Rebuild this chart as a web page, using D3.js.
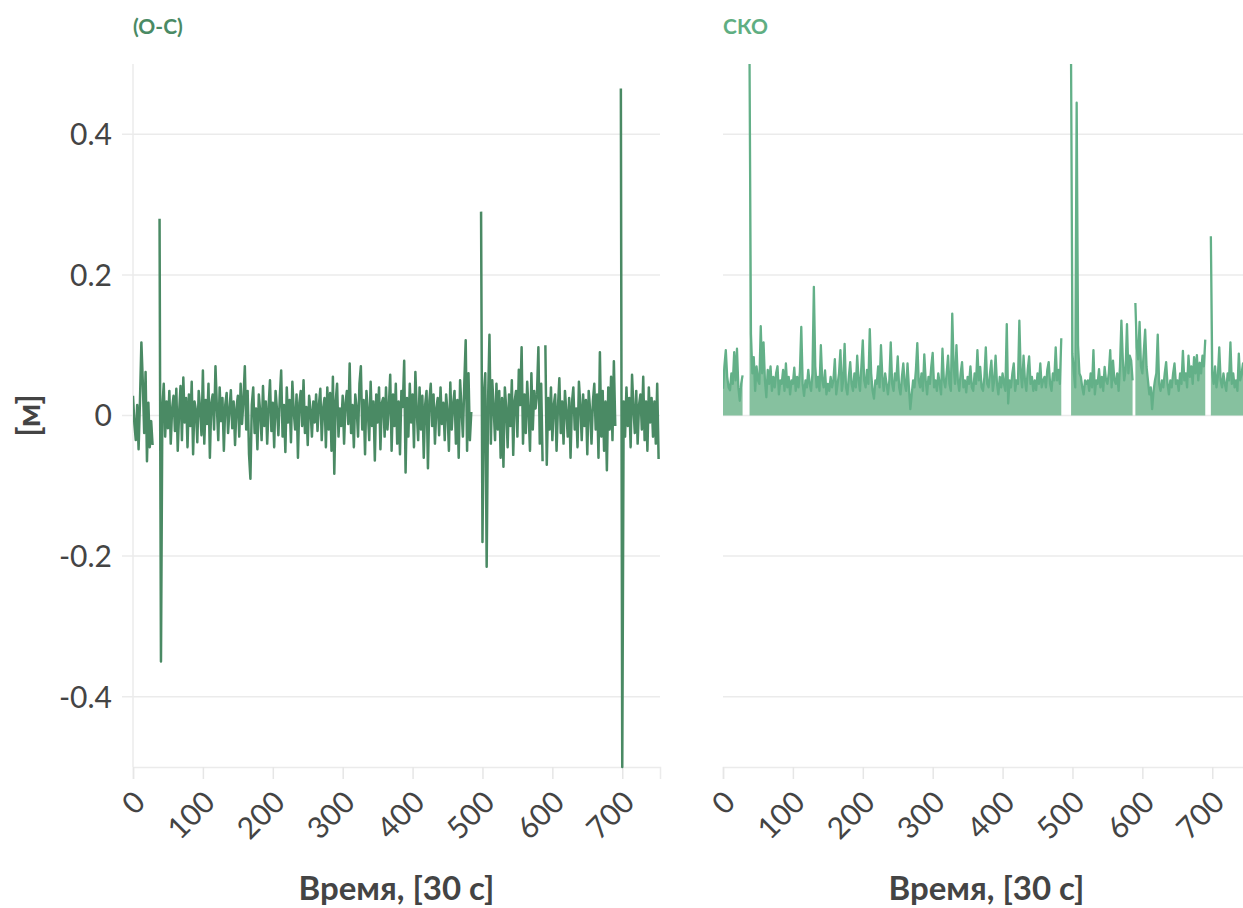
<!DOCTYPE html>
<html>
<head>
<meta charset="utf-8">
<script src="https://cdn.jsdelivr.net/npm/d3@7"></script>
<style>
html,body{margin:0;padding:0;background:#fff;overflow:hidden;}
svg{display:block;font-family:Lato,"Open Sans",sans-serif;}
</style>
</head>
<body>
<svg id="chart" width="1243" height="908"></svg>
<script>
// ---- data (time step 2 x 30 s, null = missing) ----
const timeStep = 2;
const omc = [
0.028,-0.012,-0.035,0.015,-0.048,0.022,0.104,0.048,-0.025,0.062,
-0.065,0.018,-0.045,-0.008,-0.042,null,null,null,null,0.28,
-0.35,0.012,0.045,-0.03,0.02,-0.018,0.035,-0.04,0.01,0.028,
-0.022,0.038,-0.05,0.005,0.042,-0.035,0.054,-0.01,0.025,-0.045,
0.03,-0.015,0.048,-0.055,0.02,0.008,-0.038,0.035,0.01,-0.028,
0.064,-0.04,0.022,-0.012,0.045,-0.06,0.018,0.03,-0.02,0.07,
0.012,-0.035,0.04,-0.008,0.025,-0.05,0.015,0.032,-0.025,0.008,
0.036,-0.018,0.02,-0.042,0.01,0.028,-0.03,0.045,-0.012,0.022,
0.07,-0.02,0.035,-0.055,-0.09,0.015,0.04,-0.025,0.01,-0.048,
0.03,0.005,-0.035,0.042,-0.015,0.02,-0.04,0.012,0.05,-0.022,
0.018,-0.045,0.035,0.008,-0.028,0.025,0.064,-0.03,0.015,-0.052,
0.04,-0.01,0.022,-0.038,0.048,0.005,-0.02,0.03,-0.06,0.018,
0.035,-0.015,0.05,-0.025,0.012,-0.042,0.028,0.008,-0.03,0.02,
-0.01,0.03,-0.022,0.015,0.038,-0.035,0.01,0.025,-0.045,0.04,
-0.02,0.032,-0.05,0.055,-0.083,0.02,0.045,-0.03,0.01,-0.015,
0.028,-0.04,0.018,0.035,-0.012,0.074,-0.025,0.015,-0.045,0.03,
0.01,-0.03,0.045,0.07,-0.02,0.022,-0.055,0.035,0.005,-0.035,
0.048,-0.015,0.02,-0.064,0.03,-0.01,0.04,-0.048,0.018,0.025,
-0.03,0.04,-0.02,0.012,0.058,-0.05,0.03,-0.015,0.045,-0.04,
0.02,-0.055,0.035,0.012,0.078,-0.081,0.025,-0.03,0.045,-0.01,
0.03,-0.045,0.062,0.005,-0.035,0.04,-0.02,0.028,-0.06,0.015,
0.035,-0.075,0.02,0.045,-0.015,0.03,-0.04,0.01,0.025,-0.028,
0.04,-0.012,0.018,-0.035,0.03,0.005,-0.05,0.047,-0.02,0.015,
0.035,-0.04,0.022,-0.06,0.05,0.01,-0.03,0.045,0.107,-0.05,
0.06,-0.035,0.005,null,null,null,null,null,null,0.29,
-0.18,0.03,0.06,-0.215,0.02,0.115,-0.04,0.05,0.012,-0.035,
0.045,-0.02,0.035,-0.06,0.025,-0.073,0.04,0.01,-0.045,0.03,
-0.015,0.05,-0.056,0.02,0.035,-0.03,0.065,0.015,0.097,-0.04,
0.03,-0.025,0.048,0.005,-0.05,0.06,-0.02,0.035,0.01,0.03,
0.097,-0.04,0.045,-0.065,null,0.1,-0.07,0.025,-0.02,0.04,
-0.035,0.015,0.03,-0.05,0.012,0.053,-0.025,0.02,-0.04,0.035,
0.005,-0.03,0.025,-0.06,0.018,0.04,-0.02,0.01,-0.045,0.048,
0.015,-0.035,0.03,-0.015,0.022,-0.055,0.035,0.008,-0.04,0.02,
0.045,-0.02,0.03,-0.06,0.09,-0.03,0.035,-0.05,0.02,-0.078,
0.04,-0.02,0.055,-0.035,0.077,-0.015,null,null,null,0.465,
-0.5,0.02,-0.03,0.04,-0.015,0.025,-0.045,0.058,0.01,-0.025,
0.035,-0.04,0.015,0.03,-0.02,0.055,-0.035,0.02,-0.05,0.04,
-0.01,0.025,-0.03,0.02,-0.04,0.045,-0.062
];
const sko = [
0.038,0.07,0.093,0.055,0.04,0.036,0.06,0.045,0.09,0.05,
0.095,0.04,0.021,0.045,0.057,null,null,null,null,0.5,
0.116,0.06,0.083,0.035,0.07,0.05,0.045,0.127,0.06,0.104,
0.05,0.026,0.065,0.045,0.07,0.035,0.055,0.04,0.06,0.07,
0.03,0.05,0.045,0.065,0.035,0.074,0.04,0.055,0.03,0.05,
0.045,0.068,0.035,0.055,0.04,0.062,0.126,0.045,0.028,0.05,
0.04,0.065,0.045,0.035,0.06,0.183,0.07,0.04,0.055,0.035,
0.1,0.05,0.04,0.064,0.03,0.045,0.035,0.055,0.04,0.05,
0.08,0.03,0.045,0.06,0.093,0.035,0.05,0.102,0.04,0.03,
0.055,0.076,0.045,0.035,0.06,0.04,0.085,0.05,0.035,0.07,
0.107,0.05,0.04,0.065,0.045,0.123,0.06,0.035,0.024,0.05,
0.045,0.07,0.04,0.1,0.055,0.035,0.06,0.045,0.03,0.05,
0.104,0.045,0.035,0.06,0.05,0.084,0.04,0.03,0.055,0.074,
0.045,0.035,0.074,0.04,0.009,0.03,0.05,0.04,0.065,0.103,
0.05,0.04,0.06,0.035,0.087,0.05,0.03,0.055,0.045,0.07,
0.089,0.04,0.05,0.035,0.06,0.045,0.03,0.095,0.05,0.04,
0.06,0.085,0.045,0.035,0.145,0.07,0.045,0.1,0.05,0.035,
0.06,0.076,0.04,0.05,0.033,0.055,0.045,0.07,0.04,0.035,
0.06,0.045,0.093,0.05,0.069,0.04,0.035,0.055,0.097,0.045,
0.04,0.06,0.078,0.035,0.05,0.085,0.045,0.03,0.055,0.04,
0.06,0.045,0.035,0.13,0.017,0.05,0.04,0.06,0.074,0.035,
0.05,0.045,0.135,0.06,0.04,0.085,0.05,0.035,0.065,0.084,
0.045,0.055,0.035,0.05,0.036,0.06,0.045,0.074,0.04,0.05,
0.055,0.04,0.065,0.076,0.045,0.035,0.06,0.05,0.097,0.05,
0.065,0.045,0.11,null,null,null,null,null,null,0.5,
0.088,0.06,0.04,0.445,0.1,0.06,0.055,0.04,0.03,0.05,
0.045,0.05,0.035,0.06,0.04,0.093,0.03,0.05,0.045,0.066,
0.04,0.055,0.035,0.069,0.05,0.045,0.06,0.093,0.04,0.078,
0.05,0.045,0.06,0.035,0.07,0.135,0.08,0.05,0.065,0.13,
0.06,0.085,0.078,0.05,null,0.16,0.097,0.08,0.133,0.07,
0.06,0.09,0.122,0.069,0.05,0.03,0.04,0.009,0.035,0.05,
0.06,0.115,0.045,0.035,0.05,0.04,0.06,0.076,0.045,0.03,
0.05,0.04,0.06,0.074,0.045,0.05,0.035,0.06,0.045,0.092,
0.05,0.06,0.04,0.085,0.055,0.07,0.045,0.083,0.06,0.086,
0.05,0.075,0.06,0.085,0.07,0.108,null,null,null,0.255,
0.06,0.045,0.07,0.04,0.055,0.097,0.05,0.04,0.06,0.045,
0.035,0.06,0.05,0.104,0.045,0.06,0.04,0.05,0.035,0.088,
0.05,0.06,0.074,0.045,0.08,0.04,0.07
];
const yTicks = [-0.4,-0.2,0,0.2,0.4];
const xTicks = [0,100,200,300,400,500,600,700];
const panelTitles = ["(О-С)","СКО"];
const xTitle = "Время, [30 с]";
const yTitle = "[м]";

// ---- layout ----
const svg = d3.select("#chart");
const yTop = 64, yBottom = 767;
const panels = [
  {x0:133, x1:660, data:omc, title:panelTitles[0], titleColor:"#4a8a64", kind:"line"},
  {x0:723, x1:1250, data:sko, title:panelTitles[1], titleColor:"#5fae82", kind:"area"}
];
const y = d3.scaleLinear().domain([-0.5,0.5]).range([yBottom, yTop]);
const fmt = d => d === 0 ? "0" : d3.format(".1f")(d).replace("−","-");

panels.forEach((p, pi) => {
  const x = d3.scaleLinear().domain([0,754]).range([p.x0, p.x1]);
  const g = svg.append("g");
  const pts = p.data.map((v,i) => ({t:i*timeStep, v:v}));

  g.selectAll("line.grid").data(yTicks).enter().append("line")
    .attr("x1", pi===0 ? p.x0-11 : p.x0).attr("x2", p.x1)
    .attr("y1", d=>y(d)).attr("y2", d=>y(d))
    .attr("stroke","#ebebeb").attr("stroke-width",1.5);

  const xa = g.append("g").attr("transform",`translate(0,${yBottom})`)
    .call(d3.axisBottom(x).tickValues(xTicks).tickSize(12).tickFormat(""));
  xa.select(".domain").attr("stroke","#ebebeb").attr("stroke-width",1.5);
  xa.selectAll(".tick line").attr("stroke","#e6e6e6").attr("stroke-width",1.5);

  g.selectAll("text.xt").data(xTicks).enter().append("text")
    .attr("transform", d=>`translate(${x(d)+14},${yBottom+37}) rotate(-45)`)
    .attr("text-anchor","end")
    .attr("font-size",30).attr("fill","#444")
    .text(d=>d);

  if (pi===0) {
    g.append("line").attr("x1",p.x0).attr("x2",p.x0).attr("y1",yTop).attr("y2",yBottom)
      .attr("stroke","#ebebeb").attr("stroke-width",1.5);
    g.selectAll("text.yt").data(yTicks).enter().append("text")
      .attr("x", p.x0-21).attr("y", d=>y(d)).attr("dy","0.36em")
      .attr("text-anchor","end").attr("font-size",30).attr("fill","#444")
      .text(fmt);
  }

  const cid = "clip"+pi;
  svg.append("clipPath").attr("id",cid).append("rect")
    .attr("x",p.x0).attr("y",yTop-2).attr("width",p.x1-p.x0).attr("height",yBottom-yTop+4);
  const dg = g.append("g").attr("clip-path",`url(#${cid})`);

  const line = d3.line().defined(d=>d.v!==null).x(d=>x(d.t)).y(d=>y(d.v));
  if (p.kind === "area") {
    const area = d3.area().defined(d=>d.v!==null).x(d=>x(d.t)).y0(y(0)).y1(d=>y(d.v));
    dg.append("path").datum(pts).attr("d",area).attr("fill","#86c19f");
    dg.append("path").datum(pts).attr("d",line).attr("fill","none")
      .attr("stroke","#63b088").attr("stroke-width",2.3).attr("stroke-linejoin","round");
  } else {
    dg.append("path").datum(pts).attr("d",line).attr("fill","none")
      .attr("stroke","#4a8a64").attr("stroke-width",2.5).attr("stroke-linejoin","round");
  }

  svg.append("text").attr("x",p.x0).attr("y",34).attr("font-size",21).attr("font-weight","bold")
    .attr("fill",p.titleColor).text(p.title);
  svg.append("text").attr("x",p.x0 + (660-133)/2).attr("y",900)
    .attr("text-anchor","middle").attr("font-size",33).attr("font-weight","bold")
    .attr("fill","#444").text(xTitle);
});

svg.append("text").attr("transform",`translate(40,${y(0)}) rotate(-90)`)
  .attr("text-anchor","middle").attr("font-size",33).attr("font-weight","bold")
  .attr("fill","#444").text(yTitle);
</script>
</body>
</html>
